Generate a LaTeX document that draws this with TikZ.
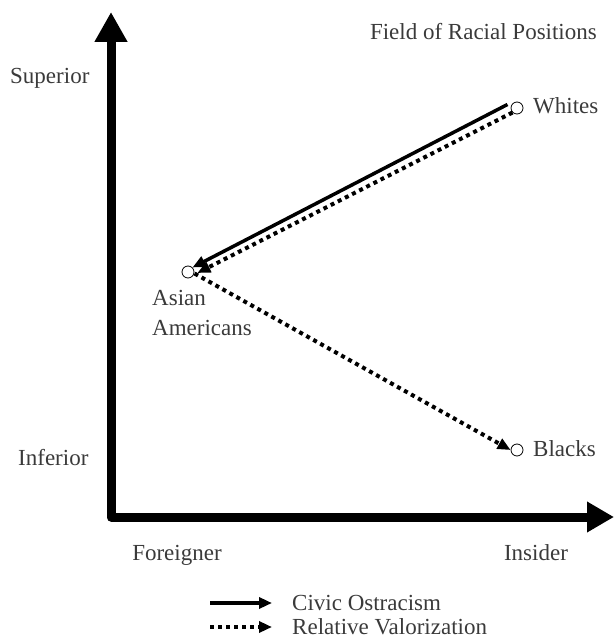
\documentclass[tikz,border=0pt]{standalone}
\usepackage{fontspec}
\setmainfont{Liberation Serif}
\usetikzlibrary{arrows.meta}
\definecolor{labelgray}{HTML}{3A3A3A}
\tikzset{
  lbl/.style={text=labelgray, font=\fontsize{23}{30}\selectfont, inner sep=0pt},
  spot/.style={circle, draw, thick, fill=white, minimum size=12pt, inner sep=0pt},
  civic/.style={line width=3.5pt, -{Triangle[length=13pt,width=11pt]}},
  valor/.style={line width=4pt, dash pattern=on 4pt off 4pt, -{Triangle[length=13pt,width=11pt]}}
}
\begin{document}
\begin{tikzpicture}[x=1pt,y=-1pt]
  \useasboundingbox (0,0) rectangle (614,644);
  % Axes
  \coordinate (top) at (111,12);
  \coordinate (origin) at (111,517);
  \coordinate (right) at (614,517);
  \draw[line width=9pt, line join=round, {Triangle[length=30pt,width=31pt]}-{Triangle[length=27pt,width=29pt]}] (top) |- (right);
  % Axis labels
  \node[lbl, anchor=base west] (sup) at (10,84) {Superior};
  \node[lbl, anchor=base west] (inf) at (18,465) {Inferior};
  \node[lbl, anchor=base] (foreign) at (177,560) {Foreigner};
  \node[lbl, anchor=base] (insider) at (536,560) {Insider};
  \node[lbl, anchor=base east] (title) at (597,40) {Field of Racial Positions};
  % Positions
  \node[spot] (w) at (517,108) {};
  \node[spot] (a) at (188,272) {};
  \node[spot] (b) at (517,450) {};
  \node[lbl, anchor=base west] at (533,114) {Whites};
  \node[lbl, anchor=base west] at (533,456) {Blacks};
  \node[lbl, anchor=base west, align=left] at (152,335) {Asian\\Americans};
  % Moves
  \draw[civic] ([xshift=-5pt,yshift=-1pt]w.north west) -- (a.north east);
  \draw[valor] (w.south west) -- ([xshift=3pt,yshift=-1pt]a.east);
  \draw[valor] ([xshift=2pt,yshift=3pt]a.south east) -- (b.west);
  % Legend
  \coordinate (l1) at (210,603);
  \coordinate (l1e) at (272,603);
  \coordinate (l2) at (210,627);
  \coordinate (l2e) at (272,627);
  \draw[civic] (l1) -- (l1e);
  \draw[valor] (l2) -- (l2e);
  \node[lbl, anchor=base west] (civ) at (292,610) {Civic Ostracism};
  \node[lbl, anchor=base west] (rel) at (292,634) {Relative Valorization};
\end{tikzpicture}
\end{document}
